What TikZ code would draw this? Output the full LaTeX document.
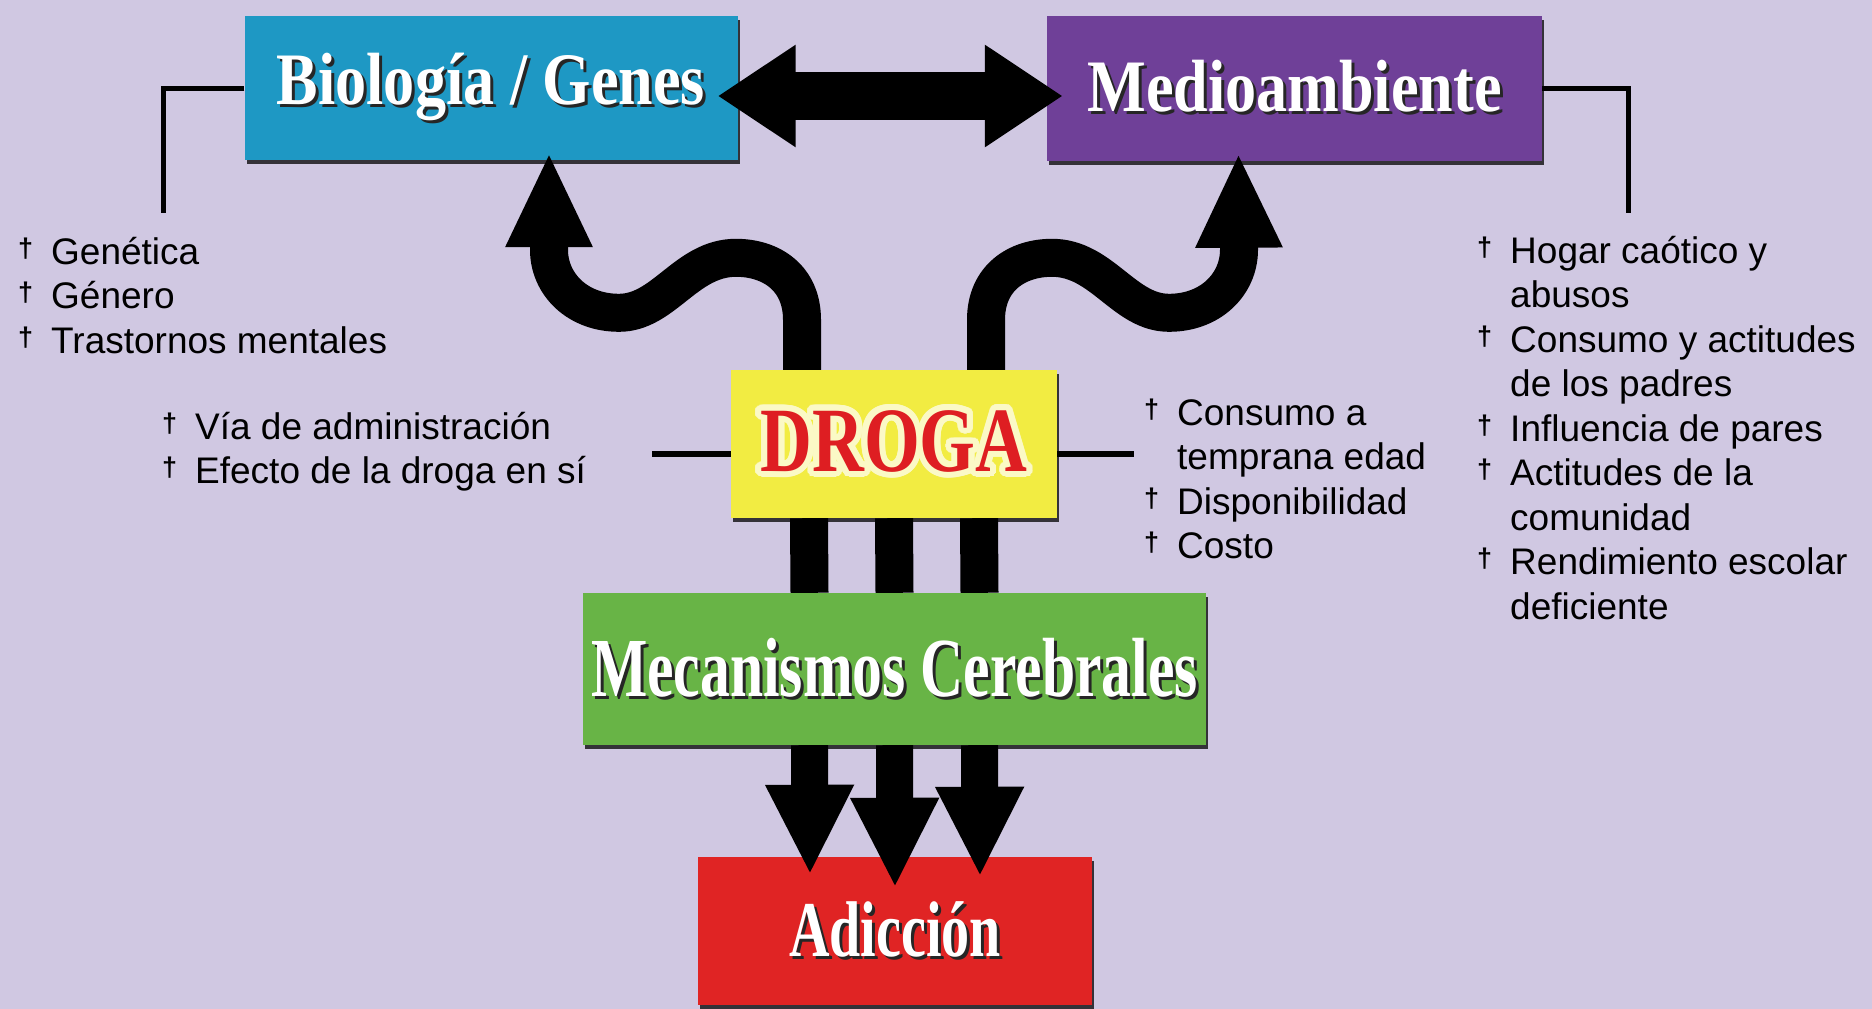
\documentclass[tikz,border=0pt]{standalone}
\usepackage{fontspec}
\usepackage{xcolor}
\usepackage[copies]{contour}
\usetikzlibrary{arrows.meta, shadows}
\setmainfont{Liberation Sans}
\newfontfamily\cajafont[FakeStretch=0.84]{Liberation Serif}
\newfontfamily\drogafont[FakeStretch=0.78]{Liberation Serif}
\newfontfamily\angostafont[FakeStretch=0.71]{Liberation Serif}
\definecolor{fondo}{RGB}{208,200,226}
\definecolor{azulbio}{RGB}{30,152,196}
\definecolor{moradoamb}{RGB}{111,64,152}
\definecolor{amarillo}{RGB}{242,236,66}
\definecolor{verde}{RGB}{104,180,70}
\definecolor{rojo}{RGB}{224,36,36}
\definecolor{rojotexto}{RGB}{222,30,34}
\contourlength{6pt}
\contournumber{32}
\newcommand\vin{\makebox[33pt][l]{\raisebox{7pt}{\fontsize{27}{27}\selectfont\bfseries †}}}
\newcommand\sig{\hspace*{33pt}}
\newcommand\relieve[1]{\makebox[0pt][l]{\hspace*{3pt}\raisebox{-3pt}{\color{black!85}#1}}{\color{white}#1}}

\begin{document}
\begin{tikzpicture}[x=1pt, y=-1pt]
    \tikzstyle{caja}=[rectangle, inner sep=0pt, drop shadow={shadow xshift=2pt, shadow yshift=-4pt, fill=black, opacity=0.75}]
    \tikzstyle{titulo}=[font=\cajafont\bfseries\fontsize{74}{80}\selectfont]
    \tikzstyle{lista}=[anchor=base west, inner sep=0pt, font=\fontsize{37}{44.5}\selectfont]
    \tikzstyle{linea}=[draw=black, line width=5pt]
    \tikzstyle{barra}=[draw=black, line width=38pt]
    \tikzstyle{onda}=[barra, line join=round, -{Triangle[length=95pt, width=80pt]}]
    \tikzstyle{bajada}=[barra, line width=37pt, -{Triangle[length=90pt, width=82pt]}]
    \tikzstyle{doble}=[draw=black, line width=48pt, {Triangle[length=78pt, width=97pt]}-{Triangle[length=78pt, width=97pt]}]

    \useasboundingbox (0,0) rectangle (1872,1009);
    \fill[fondo] (0,0) rectangle (1872,1009);

    \coordinate (cBio) at (163,213);
    \coordinate (cAmb) at (1628,213);
    \coordinate (cVia) at (652,454);
    \coordinate (cUso) at (1134,454);

    % cajas
    \node[caja, titulo, fill=azulbio, minimum width=493pt, minimum height=144pt] (bio) at (491,88) {\relieve{Biología / Genes}};
    \node[caja, titulo, fill=moradoamb, minimum width=495pt, minimum height=145pt] (amb) at (1294.5,88) {\relieve{Medioambiente}};
    \node[caja, fill=amarillo, minimum width=326pt, minimum height=148pt, font=\drogafont\bfseries\fontsize{92}{96}\selectfont] (droga) at (894,444) {\color{rojotexto}\contour{white!70!amarillo}{DROGA}};
    \node[caja, fill=verde, minimum width=623pt, minimum height=152pt, font=\angostafont\bfseries\fontsize{84}{90}\selectfont] (meca) at (894.5,669) {\relieve{Mecanismos Cerebrales}};
    \node[caja, fill=rojo, minimum width=394pt, minimum height=148pt, font=\angostafont\bfseries\fontsize{79}{84}\selectfont] (adic) at (895,931) {\relieve{Adicción}};

    \draw[linea] (bio.west) -| (cBio);
    \draw[linea] (amb.east) -| (cAmb);
    \draw[linea, line width=6pt] (droga.west |- cVia) -- (cVia);
    \draw[linea, line width=6pt] (droga.east |- cUso) -- (cUso);

    % listas
    \node[lista] (L-bio) at (18,264) {\begin{tabular}[t]{@{}l@{}}\vin Genética\\ \vin Género\\ \vin Trastornos mentales\end{tabular}};
    \node[lista] (L-via) at (162,439) {\begin{tabular}[t]{@{}l@{}}\vin Vía de administración\\ \vin Efecto de la droga en sí\end{tabular}};
    \node[lista] (L-uso) at (1144,425) {\begin{tabular}[t]{@{}l@{}}\vin Consumo a\\ \sig temprana edad\\ \vin Disponibilidad\\ \vin Costo\end{tabular}};
    \node[lista] (L-amb) at (1477,263) {\begin{tabular}[t]{@{}l@{}}\vin Hogar caótico y\\ \sig abusos\\ \vin Consumo y actitudes\\ \sig de los padres\\ \vin Influencia de pares\\ \vin Actitudes de la\\ \sig comunidad\\ \vin Rendimiento escolar\\ \sig deficiente\end{tabular}};

    % flechas
    \draw[doble, shorten <=-20pt, shorten >=-16pt] ([yshift=-8pt]bio.east) -- ([yshift=-8pt]amb.west);

    \draw[onda] ([xshift=-92pt]droga.north) -- ++(0,-50)
        .. controls +(0,-42) and +(35,0) .. ++(-66,-62)
        .. controls +(-50,0) and +(45,0) .. ++(-117,55)
        .. controls +(-42,0) and +(0,34) .. ++(-70,-63)
        -- ([xshift=58pt,yshift=8pt]bio.south);
    \draw[onda] ([xshift=92pt]droga.north) -- ++(0,-50)
        .. controls +(0,-42) and +(-35,0) .. ++(66,-62)
        .. controls +(50,0) and +(-45,0) .. ++(117,55)
        .. controls +(42,0) and +(0,34) .. ++(70,-63)
        -- ([xshift=-56pt,yshift=8pt]amb.south);

    \foreach \d in {-85,0,85}
        \draw[barra] ([xshift=\d pt]droga.south) -- ([xshift=\d pt]meca.north);

    \foreach \d/\e in {-85/18,0/31,85/20}
        \draw[bajada] ([xshift=\d pt]meca.south) -- ([xshift=\d pt,yshift=-\e pt]adic.north);
\end{tikzpicture}
\end{document}
